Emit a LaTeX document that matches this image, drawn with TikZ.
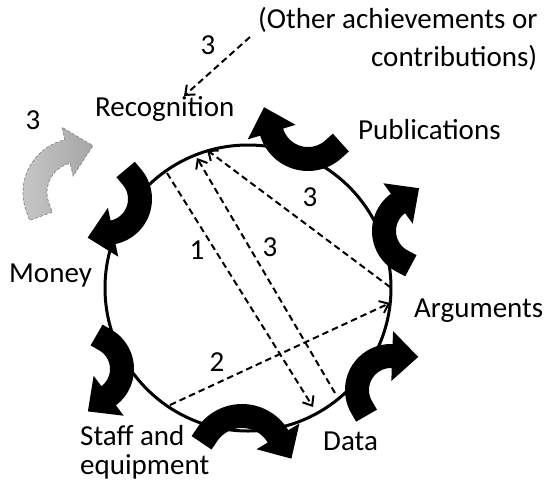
\documentclass[tikz,border=0pt]{standalone}
\usepackage{fontspec}
\setmainfont{Carlito}
\usetikzlibrary{arrows.meta}
% curved band arrow: #1 style, #2 cx, #3 cy, #4 radius, #5 start angle, #6 end angle
% the tail is prolonged backwards by a short straight piece
\newcommand\bandarrow[6]{%
  \path[#1] ({#2+(#4-12)*cos(#5)+10*cos(#5-90)},{#3+(#4-12)*sin(#5)+10*sin(#5-90)})
    -- ({#2+(#4+12)*cos(#5)+10*cos(#5-90)},{#3+(#4+12)*sin(#5)+10*sin(#5-90)})
    -- plot[domain=#5:#6,samples=36] ({#2+(#4+12)*cos(\x)},{#3+(#4+12)*sin(\x)})
    -- ({#2+(#4+25)*cos(#6)},{#3+(#4+25)*sin(#6)})
    -- ({#2+#4*cos(#6)+26*cos(#6+90)},{#3+#4*sin(#6)+26*sin(#6+90)})
    -- ({#2+(#4-25)*cos(#6)},{#3+(#4-25)*sin(#6)})
    -- plot[domain=#6:#5,samples=36] ({#2+(#4-12)*cos(\x)},{#3+(#4-12)*sin(\x)})
    -- cycle;}
\begin{document}
\begin{tikzpicture}[x=1pt,y=-1pt,
  lbl/.style={font=\fontsize{29}{34}\selectfont, inner sep=0pt},
  ring/.style={line width=3pt},
  flow/.style={line width=2pt, dash pattern=on 6.5pt off 4pt,
    -{Straight Barb[length=8pt,width=13pt]}},
  blk/.style={fill=black},
  grad/.style={left color=gray!45, right color=gray!70, draw=gray!90,
    densely dashed, line width=0.8pt}]
\useasboundingbox (0,0) rectangle (547,483);

% cycle
\draw[ring] (248,288) circle[radius=143pt];

% connector end points on the cycle
\coordinate (r1) at (167,173);
\coordinate (d1) at (313,407);
\coordinate (s3) at (335,393);
\coordinate (r3) at (197,158);
\coordinate (a3) at (390,287);
\coordinate (r4) at (207,150);
\coordinate (s2) at (170,405);
\coordinate (a2) at (390,303);
\coordinate (o3) at (250,37);
\coordinate (rt) at (184,96);

\draw[flow] (r1) -- (d1);
\draw[flow] (s3) -- (r3);
\draw[flow] (a3) -- (r4);
\draw[flow] (s2) -- (a2);
\draw[flow] (o3) -- (rt);

% curved black arrows round the cycle
\bandarrow{blk}{308}{121}{38}{48}{163}
\bandarrow{blk}{418}{231}{34}{118}{234}
\bandarrow{blk}{391}{390}{34}{150}{272}
\bandarrow{blk}{242}{458}{42}{214}{329}
\bandarrow{blk}{88.5}{369}{33.5}{300}{413}
\bandarrow{blk}{106}{199}{34}{320}{438}
% shaded arrow at the left
\bandarrow{grad}{77}{192.5}{42}{160}{257}

% labels
\node[lbl, anchor=base west] (oth1) at (258,28) {(Other achievements or};
\node[lbl, anchor=base west] (oth2) at (371,66) {contributions)};
\node[lbl, anchor=base west] (rec) at (95,116) {Recognition};
\node[lbl, anchor=base west] (pub) at (358,139) {Publications};
\node[lbl, anchor=base west] (mon) at (9,282) {Money};
\node[lbl, anchor=base west] (arg) at (414,317) {Arguments};
\node[lbl, anchor=base west] (sta1) at (80,445) {Staff and};
\node[lbl, anchor=base west] (sta2) at (80,474) {equipment};
\node[lbl, anchor=base west] (dat) at (323,450) {Data};

\node[lbl] (n3t) at (208,45) {3};
\node[lbl] (n3l) at (33,120) {3};
\node[lbl] (n3a) at (310,197) {3};
\node[lbl] (n1) at (197,250) {1};
\node[lbl] (n3m) at (270,247) {3};
\node[lbl] (n2) at (217,362) {2};
\end{tikzpicture}
\end{document}
